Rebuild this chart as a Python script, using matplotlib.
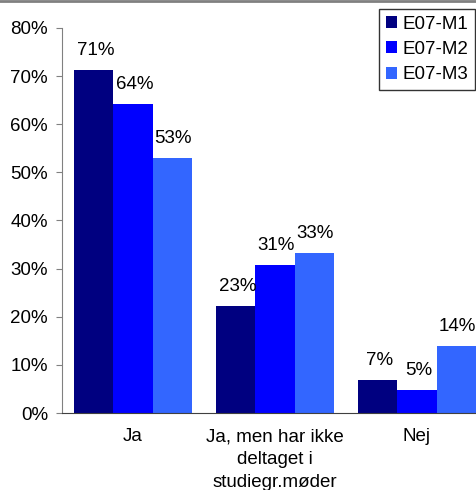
import numpy as np
import matplotlib as mpl
import matplotlib.pyplot as plt
from matplotlib.lines import Line2D

mpl.use('Agg')
plt.rcParams['font.family'] = ['Liberation Sans', 'DejaVu Sans']

categories = ["Ja", "Ja, men har ikke\ndeltaget i\nstudiegr.møder", "Nej"]
series = ["E07-M1", "E07-M2", "E07-M3"]
m1 = [71.2, 22.3, 6.9]
m2 = [64.2, 30.7, 4.8]
m3 = [53.0, 33.2, 14.0]
m1_labels = ["71%", "23%", "7%"]
m2_labels = ["64%", "31%", "5%"]
m3_labels = ["53%", "33%", "14%"]
colors = ["#000080", "#0000FF", "#3366FF"]

fig = plt.figure(figsize=(4.76, 4.90), dpi=100)
ax = fig.add_axes([62 / 476, 77 / 490, 426 / 476, 385 / 490])

x = np.arange(len(categories))
w = 0.275
for k, (vals, labs) in enumerate([(m1, m1_labels), (m2, m2_labels), (m3, m3_labels)]):
    pos = x + (k - 1) * w
    ax.bar(pos, vals, width=w, color=colors[k], label=series[k])
    for p, v, t in zip(pos, vals, labs):
        ax.annotate(t, (p, v), xytext=(1, 8), textcoords="offset points",
                    ha="center", va="bottom", fontsize=13.5)

ax.set_xlim(-0.5, 2.5)
ax.set_ylim(0, 80)
ax.set_yticks(range(0, 81, 10))
ax.set_yticklabels([f"{t}%" for t in range(0, 81, 10)], fontsize=13.5)
ax.set_xticks(x)
ax.set_xticklabels(categories, fontsize=13.5, linespacing=1.45)
ax.tick_params(axis="x", length=0, pad=11)
ax.tick_params(axis="y", length=4, color="#808080", pad=6)

for s in ["top", "right"]:
    ax.spines[s].set_visible(False)
ax.spines["left"].set_color("#808080")
ax.spines["bottom"].set_color("#404040")

leg = ax.legend(loc="upper right", bbox_to_anchor=(475 / 476, 1 - 9 / 490),
                bbox_transform=fig.transFigure,
                fontsize=13.5, frameon=True, fancybox=False, handlelength=0.6,
                handleheight=0.6, handletextpad=0.3, labelspacing=0.45,
                borderpad=0.35, borderaxespad=0)
leg.get_frame().set_edgecolor("black")
leg.get_frame().set_linewidth(1)

fig.add_artist(Line2D([0, 1], [0.998, 0.998], color="#808080", lw=2,
                      transform=fig.transFigure))

fig.savefig("out.png", dpi=100)
plt.close()
